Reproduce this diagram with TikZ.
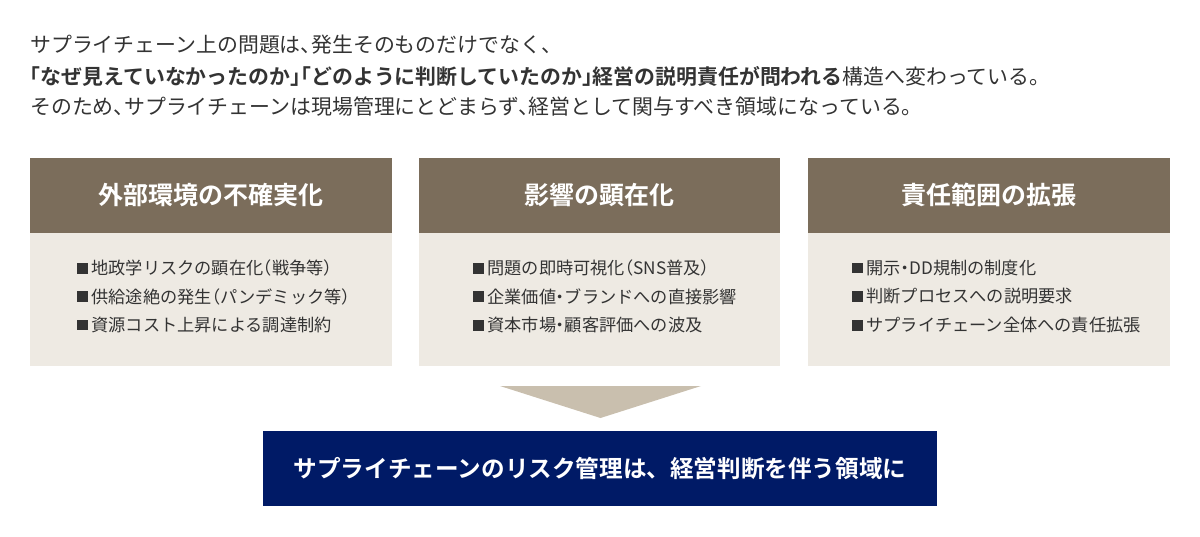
\documentclass[tikz,border=0pt]{standalone}
\usepackage{fontspec}
\setmainfont{Noto Sans CJK JP}[BoldFont={Noto Sans CJK JP Bold}]
\definecolor{hdr}{HTML}{7B6D5B}
\definecolor{bodybg}{HTML}{EEEAE3}
\definecolor{tri}{HTML}{C9BFAE}
\definecolor{navy}{HTML}{001A66}
\definecolor{txt}{HTML}{333333}
\newcommand\jlp{\kern-0.5em（}
\newcommand\jrp{）\kern-0.5em}
\newcommand\jdot{\kern-0.25em・\kern-0.25em}
\newcommand\jcm{、\kern-0.5em}
\newcommand\jlq{\kern-0.5em「}
\newcommand\jrq{」\kern-0.5em}
\newcommand\jsq{\makebox[1em][c]{\rule[0.06em]{0.62em}{0.62em}}}
\tikzset{
  leadline/.style={anchor=west, inner sep=0pt, text=txt, font=\fontsize{20.9}{24}\selectfont},
  hdrbox/.style={fill=hdr, draw=none, minimum width=361.5pt, minimum height=75.5pt, inner sep=0pt, text=white, font=\fontsize{25}{29}\selectfont\bfseries},
  bodybox/.style={fill=bodybg, draw=none, minimum width=361.5pt, minimum height=132.5pt, inner sep=0pt, anchor=north},
  bullet/.style={anchor=west, inner sep=0pt, text=txt, font=\fontsize{17.2}{20}\selectfont},
  resultbox/.style={fill=navy, draw=none, minimum width=674pt, minimum height=75pt, inner sep=0pt, text=white, font=\fontsize{23.6}{28}\selectfont\bfseries},
  arrowtri/.style={fill=tri, draw=none}
}
\begin{document}
\begin{tikzpicture}[x=1pt, y=-1pt]
\useasboundingbox (0,0) rectangle (1200,536);
% lead text
\node[leadline] (l1) at (30,45) {サプライチェーン上の問題は\jcm 発生そのものだけでなく、};
\node[leadline] (l2) at (30,76) {{\bfseries \jlq なぜ見えていなかったのか\jrq\jlq どのように判断していたのか\jrq 経営の説明責任が問われる}構造へ変わっている。};
\node[leadline] (l3) at (30,107) {そのため\jcm サプライチェーンは現場管理にとどまらず\jcm 経営として関与すべき領域になっている。};
% boxes
\node[hdrbox] (h1) at (210.75,195.25) {外部環境の不確実化};
\node[hdrbox] (h2) at (599.5,195.25) {影響の顕在化};
\node[hdrbox] (h3) at (988.75,195.25) {責任範囲の拡張};
\node[bodybox] (b1) at (h1.south) {};
\node[bodybox] (b2) at (h2.south) {};
\node[bodybox] (b3) at (h3.south) {};
% bullets box 1
\node[bullet] (b1i1) at (74,268) {\jsq 地政学リスクの顕在化\jlp 戦争等\jrp};
\node[bullet] (b1i2) at (74,296.5) {\jsq 供給途絶の発生\jlp パンデミック等\jrp};
\node[bullet] (b1i3) at (74,325) {\jsq 資源コスト上昇による調達制約};
% bullets box 2
\node[bullet] (b2i1) at (470,268) {\jsq 問題の即時可視化\jlp SNS普及\jrp};
\node[bullet] (b2i2) at (470,296.5) {\jsq 企業価値\jdot ブランドへの直接影響};
\node[bullet] (b2i3) at (470,325) {\jsq 資本市場\jdot 顧客評価への波及};
% bullets box 3
\node[bullet] (b3i1) at (849,268) {\jsq 開示\jdot DD規制の制度化};
\node[bullet] (b3i2) at (849,296.5) {\jsq 判断プロセスへの説明要求};
\node[bullet] (b3i3) at (849,325) {\jsq サプライチェーン全体への責任拡張};
% result
\node[resultbox] (res) at (600,468.5) {サプライチェーンのリスク管理は、経営判断を伴う領域に};
% arrow triangle
\coordinate (tl) at (500,386);
\coordinate (tr) at (701,386);
\coordinate (tip) at (600.5,418);
\fill[arrowtri] (tl) -- (tr) -- (tip) -- cycle;
\end{tikzpicture}
\end{document}
